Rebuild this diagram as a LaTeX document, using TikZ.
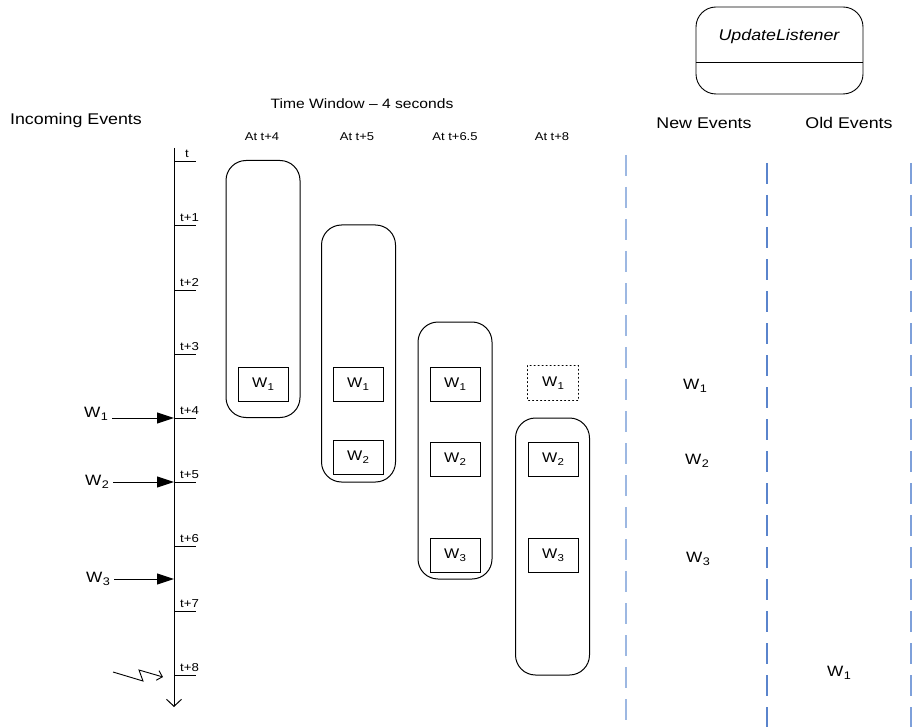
\documentclass[tikz,border=0pt]{standalone}
\usepackage{fontspec}
\setmainfont[FakeStretch=1.15]{Liberation Sans}
\usetikzlibrary{arrows.meta}
\definecolor{dashA}{HTML}{9DB8E2}
\definecolor{dashB}{HTML}{5A84CC}
\definecolor{dashC}{HTML}{7EA0DA}
\newcommand{\ev}[2][10]{W\kern0.3pt\raisebox{-2.6pt}{\fontsize{#1}{#1}\selectfont #2}}
\tikzset{
  head/.style={font=\fontsize{15.5}{18}\selectfont, inner sep=0pt},
  small/.style={font=\fontsize{11.3}{13}\selectfont, inner sep=0pt},
  ticklab/.style={font=\fontsize{11.5}{12}\selectfont, inner sep=0pt, anchor=south west},
  win/.style={draw, line width=1pt, rounded corners=20pt, minimum width=74pt, minimum height=257pt, inner sep=0pt},
  evbox/.style={draw, line width=0.9pt, minimum width=50pt, minimum height=34pt, inner sep=0pt, font=\fontsize{14}{15}\selectfont},
  evdot/.style={evbox, draw=none},
  evlab/.style={font=\fontsize{15}{17}\selectfont, inner sep=0pt},
  tickline/.style={line width=0.9pt},
  inarrow/.style={line width=1pt, -{Triangle[length=17pt,width=11pt]}},
  sep/.style={dash pattern=on 21pt off 11pt}
}
\begin{document}
\begin{tikzpicture}[x=1pt,y=-1pt]
\useasboundingbox (0,0) rectangle (912,727);
% headings
\node[head] (hin) at (76,120) {Incoming Events};
\node[head, font=\fontsize{13.6}{16}\selectfont] (htw) at (362,104) {Time Window -- 4 seconds};
\node[small] (a4) at (262,137) {At t+4};
\node[small] (a5) at (357,137) {At t+5};
\node[small] (a65) at (455,137) {At t+6.5};
\node[small] (a8) at (552,137) {At t+8};
\node[head] (hnew) at (704,123) {New Events};
\node[head] (hold) at (849,123) {Old Events};
% update listener
\node[draw, line width=0.9pt, rounded corners=20pt, minimum width=167pt, minimum height=87pt, inner sep=0pt] (ul) at (779.5,50.5) {};
\node[head, font=\fontsize{15.5}{18}\selectfont\itshape] (ultxt) at (779,36) {UpdateListener};
\coordinate (ulL) at (696,62);
\coordinate (ulR) at (863,62);
\draw[line width=0.9pt] (ulL) -- (ulR);
% axis
\coordinate (axtop) at (174,148);
\coordinate (axbot) at (174,707);
\draw[line width=1pt, -{Straight Barb[length=7pt,width=15pt,line width=1pt]}] (axtop) -- (axbot);
\foreach \n/\y in {0/161,1/225,2/290,3/354,4/418,5/482,6/546,7/611,8/675}{
  \coordinate (tk\n) at (174,\y);
  \coordinate (tke\n) at (196,\y);
  \draw[tickline] (tk\n) -- (tke\n);
}
\node[ticklab] (l0) at (185,158) {t};
\foreach \n/\y/\lab in {1/225/t+1,2/290/t+2,3/354/t+3,4/418/t+4,5/482/t+5,6/546/t+6,7/611/t+7,8/675/t+8}{
  \node[ticklab] (l\n) at (180,\y-3) {\lab};
}
% incoming events
\node[evlab, anchor=east] (in1) at (108,414) {\ev[11]{1}};
\node[evlab, anchor=east] (in2) at (109,482) {\ev[11]{2}};
\node[evlab, anchor=east] (in3) at (110,579) {\ev[11]{3}};
\coordinate (ar1) at (174,418);
\coordinate (ar2) at (174,482);
\coordinate (ar3) at (174,579);
\draw[inarrow] (in1.east |- ar1) ++(4,0) coordinate (st1) (st1) -- (ar1);
\draw[inarrow] (in2.east |- ar2) ++(4,0) coordinate (st2) (st2) -- (ar2);
\draw[inarrow] (in3.east |- ar3) ++(4,0) coordinate (st3) (st3) -- (ar3);
% lightning
\coordinate (z0) at (113,672);
\coordinate (z1) at (143,681);
\coordinate (z2) at (139,670);
\coordinate (z3) at (163,677);
\draw[line width=0.9pt, -{Straight Barb[length=5pt,width=10pt,line width=0.9pt]}] (z0) -- (z1) -- (z2) -- (z3);
% windows
\node[win] (w1) at (263,289) {};
\node[win] (w2) at (358.5,353.5) {};
\node[win] (w3) at (455,450.5) {};
\node[win] (w4) at (552.5,546.5) {};
% boxes
\node[evbox] (b11) at (263,384) {\ev{1}};
\node[evbox] (b21) at (358,384) {\ev{1}};
\node[evbox] (b22) at (358,457) {\ev{2}};
\node[evbox] (b31) at (455,384) {\ev{1}};
\node[evbox] (b32) at (455,459) {\ev{2}};
\node[evbox] (b33) at (455,555) {\ev{3}};
\node[evdot] (b41) at (553,383) {\ev{1}};
\draw[line width=1pt, dash pattern=on 1pt off 3pt, line cap=round] (b41.north west) rectangle (b41.south east);
\node[evbox] (b42) at (553,459) {\ev{2}};
\node[evbox] (b43) at (553,555) {\ev{3}};
% new / old events
\node[evlab] (n1) at (695,386) {\ev[11]{1}};
\node[evlab] (n2) at (697,461) {\ev[11]{2}};
\node[evlab] (n3) at (698,559) {\ev[11]{3}};
\node[evlab] (o1) at (839,673) {\ev[11]{1}};
% separators
\coordinate (s1t) at (626,155); \coordinate (s1b) at (626,727);
\coordinate (s2t) at (767,163); \coordinate (s2b) at (767,727);
\coordinate (s3t) at (911,163); \coordinate (s3b) at (911,727);
\draw[sep, dashA, line width=2pt] (s1t) -- (s1b);
\draw[sep, dashB, line width=1.2pt] (s2t) -- (s2b);
\draw[sep, dashC, line width=2pt] (s3t) -- (s3b);
\end{tikzpicture}
\end{document}
